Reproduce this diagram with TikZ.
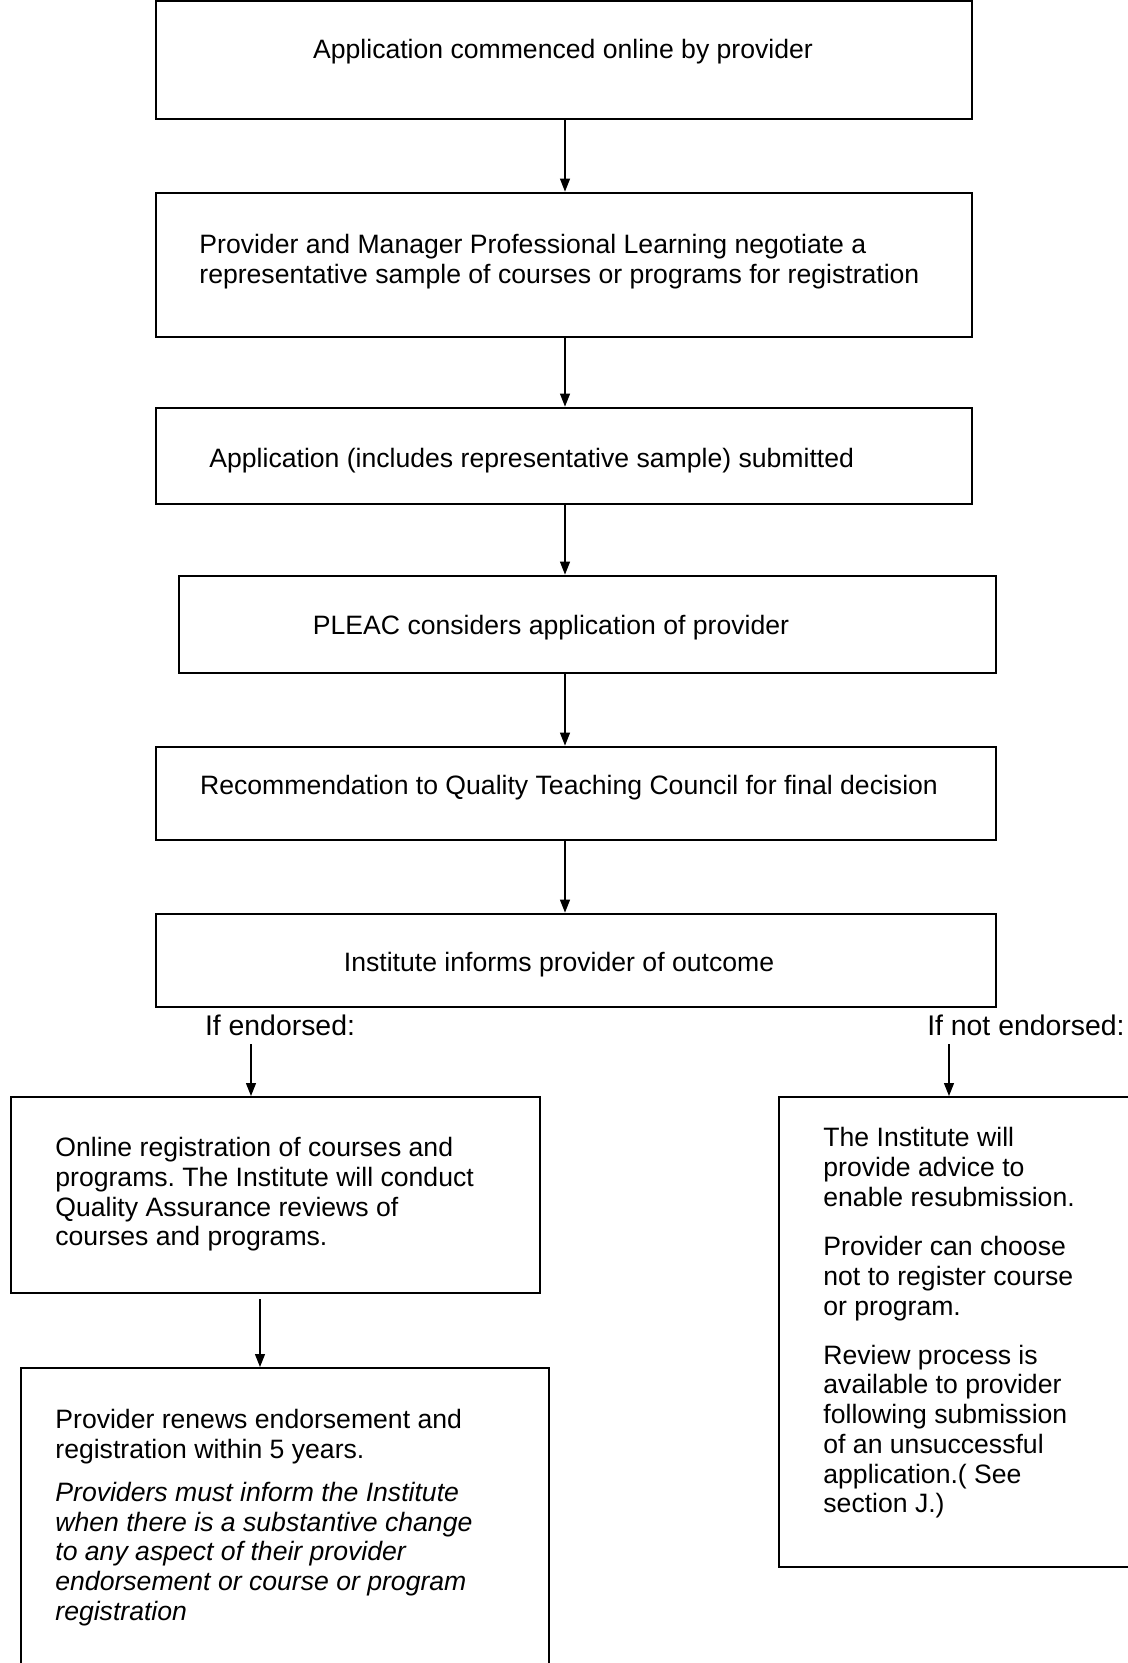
\documentclass[tikz,border=0pt]{standalone}
\usepackage{fontspec}
\setmainfont{Liberation Sans}
\usetikzlibrary{arrows.meta,fit}

\tikzset{
  stepbox/.style={draw, line width=1.4pt, inner sep=0pt},
  sidebox/.style={draw, line width=1pt, inner sep=0pt},
  txt/.style={inner sep=0pt, font=\fontsize{13.3pt}{14.85pt}\selectfont},
  para/.style={txt, align=left, anchor=north west},
  branch/.style={inner sep=0pt, font=\fontsize{14.2pt}{16pt}\selectfont},
  flow/.style={line width=0.6pt, -{Triangle[length=6.5pt,width=5pt]}}
}

\begin{document}
\frenchspacing
\begin{tikzpicture}[x=0.5pt, y=-0.5pt]
  \useasboundingbox (0,0) rectangle (1128,1663);
  \clip (0,0) rectangle (1128,1663);

  % main column
  \node[stepbox, fit={(156,1) (972,119)}] (b1) {};
  \node[stepbox, fit={(156,193) (972,337)}] (b2) {};
  \node[stepbox, fit={(156,408) (972,504)}] (b3) {};
  \node[stepbox, fit={(179,576) (996,673)}] (b4) {};
  \node[stepbox, fit={(156,747) (996,840)}] (b5) {};
  \node[stepbox, fit={(156,914) (996,1007)}] (b6) {};

  \node[txt, anchor=base] (t1) at (563,59) {Application commenced online by provider};
  \node[para] (t2) at (199,234) {Provider and Manager Professional Learning negotiate a\\representative sample of courses or programs for registration};
  \node[txt, anchor=base west] (t3) at (209,467) {Application (includes representative sample) submitted};
  \node[txt, anchor=base] (t4) at (551,634) {PLEAC considers application of provider};
  \node[txt, anchor=base] (t5) at (569,794) {Recommendation to Quality Teaching Council for final decision};
  \node[txt, anchor=base] (t6) at (559,971) {Institute informs provider of outcome};

  \coordinate (spine) at (565,0);
  \foreach \a/\b in {b1/b2,b2/b3,b3/b4,b4/b5,b5/b6}
    \draw[flow] (spine |- \a.south) -- (spine |- \b.north);

  % outcome branches
  \node[branch, anchor=base] (ifyes) at (280,1035) {If endorsed:};
  \node[branch, anchor=base east] (ifno) at (1125,1035) {If not endorsed:};

  \node[sidebox, fit={(11,1097) (540,1293)}] (ok1) {};
  \node[sidebox, fit={(21,1368) (549,1680)}] (ok2) {};
  \node[sidebox, fit={(779,1097) (1140,1567)}] (no1) {};

  \node[para] (okt1) at (55,1137) {Online registration of courses and\\programs. The Institute will conduct\\Quality Assurance reviews of\\courses and programs.};
  \node[para] (okt2) at (55,1409) {Provider renews endorsement and\\registration within 5 years.\\[6.75pt]
    \itshape Providers must inform the Institute\\\itshape when there is a substantive change\\\itshape to any aspect of their provider\\\itshape endorsement or course or program\\\itshape registration};
  \node[para] (not1) at (823,1127) {The Institute will\\provide advice to\\enable resubmission.\\[10pt]
    Provider can choose\\not to register course\\or program.\\[9.7pt]
    Review process is\\available to provider\\following submission\\of an unsuccessful\\application.( See\\section J.)};

  \coordinate (yesarr) at (251,1044);
  \coordinate (noarr) at (949,1044);
  \coordinate (okarr) at (260,1299);
  \draw[flow] (yesarr) -- (yesarr |- ok1.north);
  \draw[flow] (noarr) -- (noarr |- no1.north);
  \draw[flow] (okarr) -- (okarr |- ok2.north);
\end{tikzpicture}
\end{document}
